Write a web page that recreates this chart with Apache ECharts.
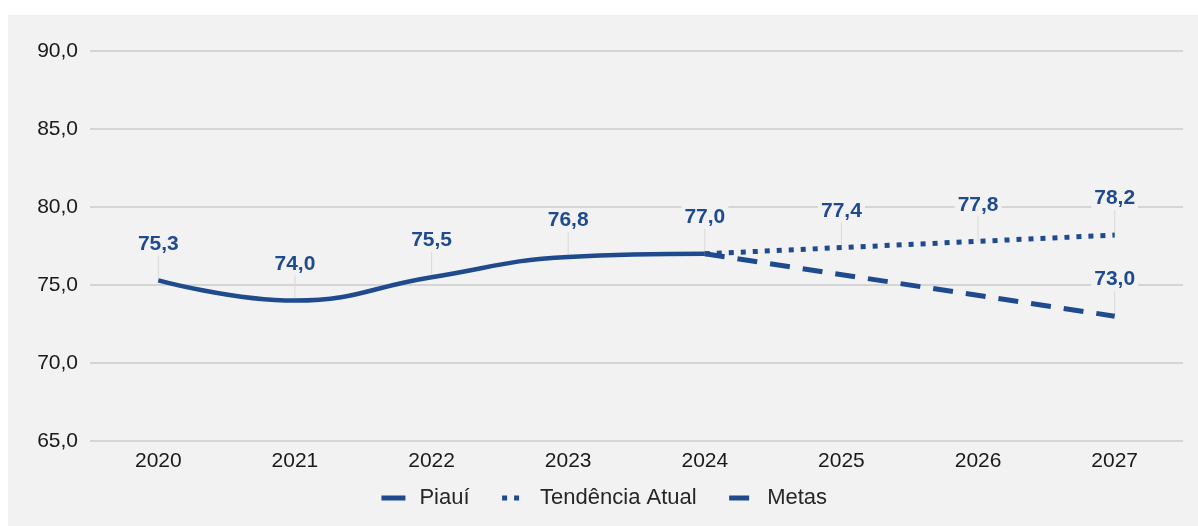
<!DOCTYPE html>
<html>
<head>
<meta charset="utf-8">
<script src="https://cdn.jsdelivr.net/npm/echarts@6/dist/echarts.min.js"></script>
<style>
  html, body { margin: 0; padding: 0; background: #ffffff; }
  #box { position: absolute; left: 8px; top: 15px; width: 1190px; height: 511px; background: #f2f2f2; }
  #chart { width: 1190px; height: 511px; }
</style>
</head>
<body>
<div id="box"><div id="chart"></div></div>
<script>
// dados
const anos = ['2020', '2021', '2022', '2023', '2024', '2025', '2026', '2027'];
const piaui = [75.3, 74.0, 75.5, 76.8, 77.0, null, null, null];
const tendencia = [null, null, null, null, 77.0, 77.4, 77.8, 78.2];
const metas = [null, null, null, null, 77.0, null, null, 73.0];
// pontos que levam rótulo
const rotulos = [
  ['2020', 75.3], ['2021', 74.0], ['2022', 75.5], ['2023', 76.8], ['2024', 77.0],
  ['2025', 77.4], ['2026', 77.8], ['2027', 78.2], ['2027', 73.0]
];
const yTicks = [65, 70, 75, 80, 85, 90];

const azul = '#1f4a8e';
const fonte = 'Liberation Sans, Arial, sans-serif';
const fmt = v => v.toFixed(1).replace('.', ',');

const chart = echarts.init(document.getElementById('chart'));
chart.setOption({
  animation: false,
  textStyle: { fontFamily: fonte },
  grid: { left: 82, right: 15, top: 36, bottom: 85 },
  legend: {
    bottom: 12,
    left: 'center',
    itemWidth: 24,
    itemHeight: 10,
    itemGap: 30,
    lineStyle: { width: 5 },
    itemStyle: { opacity: 0 },
    textStyle: { fontSize: 22, color: '#262626', fontFamily: fonte, padding: [0, 0, 0, 9] },
    data: ['Piauí', 'Tendência Atual', 'Metas']
  },
  xAxis: {
    type: 'category',
    data: anos,
    axisLine: { show: false },
    axisTick: { show: false },
    axisLabel: { fontSize: 21, color: '#1a1a1a', margin: 10 }
  },
  yAxis: {
    type: 'value',
    min: yTicks[0],
    max: yTicks[yTicks.length - 1],
    interval: 5,
    axisLabel: { fontSize: 21, color: '#1a1a1a', margin: 12, formatter: v => fmt(v) },
    splitLine: { lineStyle: { color: '#cbcbcb', width: 1.5 } }
  },
  series: [
    {
      // linhas guia dos rótulos
      name: 'guias',
      type: 'custom',
      data: rotulos,
      silent: true,
      z: 1,
      renderItem: (params, api) => {
        const p = api.coord([api.value(0), api.value(1)]);
        return {
          type: 'line',
          shape: { x1: p[0], y1: p[1], x2: p[0], y2: p[1] - 28 },
          style: { stroke: '#d9d9d9', lineWidth: 1 }
        };
      }
    },
    {
      name: 'Piauí',
      type: 'line',
      data: piaui,
      smooth: 0.45,
      symbol: 'none',
      lineStyle: { color: azul, width: 4.5 },
      itemStyle: { color: azul },
      z: 3
    },
    {
      name: 'Tendência Atual',
      type: 'line',
      data: tendencia,
      symbol: 'none',
      lineStyle: { color: azul, width: 5, type: [5, 7] },
      itemStyle: { color: azul }
    },
    {
      name: 'Metas',
      type: 'line',
      data: metas,
      connectNulls: true,
      symbol: 'none',
      lineStyle: { color: azul, width: 5, type: [20, 13] },
      itemStyle: { color: azul }
    },
    {
      name: 'rotulos',
      type: 'scatter',
      data: rotulos,
      symbolSize: 0,
      silent: true,
      itemStyle: { opacity: 1, color: azul },
      label: {
        show: true,
        position: 'top',
        distance: 25,
        color: azul,
        fontSize: 21,
        fontWeight: 'bold',
        fontFamily: fonte,
        backgroundColor: '#f2f2f2',
        padding: [1, 3],
        formatter: p => fmt(p.value[1])
      },
      z: 5
    }
  ]
});
</script>
</body>
</html>
